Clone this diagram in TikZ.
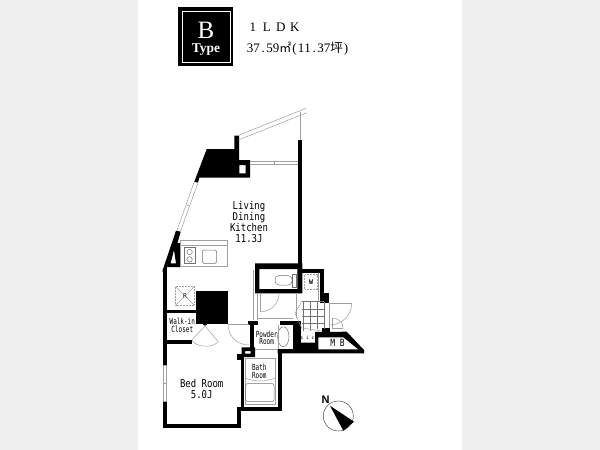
\documentclass[tikz,border=0pt]{standalone}
\usepackage{fontspec}
\setmainfont{Liberation Serif}
\setsansfont{Liberation Sans}
\setmonofont{DejaVu Sans Mono}
\newfontfamily\cjk{Noto Sans CJK JP}
\newcommand{\hw}[1]{\makebox[6.5pt]{#1}}
\newcommand{\fw}[1]{\makebox[14pt]{#1}}
\tikzset{
  wall/.style={fill=black,even odd rule},
  fine/.style={draw=gray!75,line width=0.5pt},
  fitting/.style={draw=gray!90!black,line width=0.5pt},
  roomlabel/.style={font=\ttfamily\fontsize{9}{9.2}\selectfont,align=center,yscale=1.2,inner sep=0pt},
  smalllabel/.style={font=\ttfamily\fontsize{6}{5.4}\selectfont,align=center,yscale=1.4,inner sep=0pt}
}
\begin{document}
\begin{tikzpicture}[x=1pt,y=-1pt]
\useasboundingbox (0,0) rectangle (600,450);
\fill[gray!12] (0,0) rectangle (600,450);
\fill[white] (138,0) rectangle (462,450);

% title block
\fill[black] (178.3,7.3) rectangle (233.3,66);
\draw[white,line width=0.5pt] (182.7,11.7) rectangle (230,62.7);
\node[white,font=\fontsize{25}{25}\selectfont,inner sep=0pt] (typeletter) at (206,30) {B};
\node[white,font=\bfseries\fontsize{13.5}{14}\selectfont,inner sep=0pt] (typeword) at (206,49.5) {Type};
\node[anchor=west,font=\fontsize{13}{14}\selectfont,inner sep=0pt] (layout) at (245.7,27.5) {\fw{1}\fw{L}\fw{D}\fw{K}};
\node[anchor=west,font=\fontsize{13}{14}\selectfont,inner sep=0pt] (area) at (246.7,48.5) {\hw{3}\hw{7}\hw{.}\hw{5}\hw{9}{\cjk\fontsize{12}{12}\selectfont ㎡}\hw{(}\hw{1}\hw{1}\hw{.}\hw{3}\hw{7}{\cjk\fontsize{12.5}{12.5}\selectfont 坪}\hw{)}};

% upper walls
\fill[wall] (206.7,149)--(234.3,149)--(234.3,135.7)--(239,135.7)--(239,160)--(250,160)--(250,177.7)--(199.3,177.7)--(198,182.7)--(194.3,181.7)--cycle
  (239.3,165) rectangle (245.7,173.3);
\fill[wall] (297.7,140) rectangle (302.3,293.3);
\fill[wall] (176,230.7)--(180.7,231.7)--(177.5,243)--(180.7,243)--(180.7,267)--(167,267)--(166.7,272)--(162.7,272)--(162.7,270)--cycle
  (174,250)--(176,263.3)--(170.6,263.3)--cycle;

% left and bottom walls
\fill[wall] (162.7,270) rectangle (166.7,365);
\fill[wall] (162.7,401.7) rectangle (166.7,428.3);
\fill[wall] (162.7,424) rectangle (241,428.3);
\fill[wall] (236.7,406.7) rectangle (241,428.3);
\fill[wall] (166.7,310) rectangle (196,313);
\fill[wall] (166.7,340) rectangle (191.7,344.3);
\fill[wall] (196,291) rectangle (227.7,324);
\fill[wall] (205,323) circle (2.6);

% toilet and closet
\fill[wall] (255,263.3) rectangle (302.3,293.3) (259.3,269) rectangle (297.3,289);
\fill[wall] (302.3,269) rectangle (324.3,273.3);
\fill[wall] (320,269) rectangle (324.3,293.3);
\fill[wall] (320,293.3) rectangle (329,303.3);

% powder room and bath
\fill[wall] (248.3,320.7) rectangle (258.3,325);
\fill[wall] (250,320.7) rectangle (254,350);
\fill[wall] (280,320.7) rectangle (298.3,325);
\fill[wall] (293.3,320.7) rectangle (301,353.3);
\fill[wall] (241.7,347.3) rectangle (255,357) (245,351) rectangle (250.5,353.5);
\fill[wall] (236.7,353.5) rectangle (255,357);
\fill[wall] (241,353.5) rectangle (243.5,410);
\fill[wall] (236.7,353.5) rectangle (241,360);
\fill[wall] (236.7,406.7) rectangle (281.7,410.7);
\fill[wall] (277.7,349) rectangle (281.7,410.7);

% meter box
\fill[wall] (293.3,342.7)--(315,342.7)--(315,332)--(346.7,331.7)--(364,350)--(364,353.3)--(277.7,353.3)--(277.7,349)--(293.3,349)--cycle
  (318.3,337.3)--(343.3,337.3)--(358.3,349.3)--(318.3,349.3)--cycle;
\fill[wall] (322,328) rectangle (330,332);

% windows
\draw[fine] (236.7,136)--(306,108.3);
\draw[fine] (238.3,140)--(306.7,112.7);
\draw[fine] (300,112)--(300,140);
\draw[fine] (250,161)--(297.7,161);
\draw[fine] (250,164.3)--(297.7,164.3);
\draw[fine] (274,161)--(274,164.3);
\draw[fine] (194.3,181.7)--(176.8,230.7);
\draw[fine] (198,182.7)--(180.3,231.7);
\draw[fine] (186.3,205)--(190,206);
\draw[fine] (163,365) rectangle (166.4,401.7);
\draw[fine] (163,383)--(166.4,383);

% kitchen
\draw[fine] (180.7,240.7) rectangle (227.3,266.7);
\draw[fine] (180.7,245)--(227.3,245);
\draw[fitting] (184.3,247.7) rectangle (195,263.3);
\draw[fitting] (189.6,252) circle (2.7);
\draw[fitting] (189.6,259.4) circle (2.7);
\draw[fitting,rounded corners=1.5pt] (202.3,250) rectangle (216.7,263.3);

% duct
\draw[fine,densely dotted] (175.7,286.7) rectangle (194.3,305);
\draw[fine] (175.7,286.7)--(194.3,305);
\draw[fine] (194.3,286.7)--(175.7,305);
\node[fill=white,font=\ttfamily\fontsize{6.5}{6.5}\selectfont,inner sep=0.5pt] (ductmark) at (185,296) {R};

% closet door
\draw[fine] (205,326)--(191.7,340);
\draw[fine] (205,326)--(218.3,341.7);
\draw[fine] (191.7,340) .. controls (196,347) and (211,349) .. (218.3,341.7);

% bedroom door
\draw[fine] (228,324)--(249,324);
\draw[fine] (228,324) .. controls (228,336) and (237,345) .. (249,345);

% corridor and toilet door
\draw[fine] (253.3,270)--(253.3,320);
\draw[fine] (257,293.3)--(257,320);
\draw[fine] (258,318)--(293,318);
\draw[fine] (260.7,293.3)--(279,293.3);
\draw[fine] (260.7,293.3)--(260.7,311.7);
\draw[fine] (260.7,311.7) .. controls (271,311.7) and (279,303.5) .. (279,293.3);
\draw[fine] (296.5,293.3)--(296.5,318);

% toilet fittings
\draw[fitting,rounded corners=4pt] (275,275.5) rectangle (292,285);
\draw[fitting] (292,274)--(296,274)--(296,287)--(292,287)--cycle;
\draw[fine,densely dotted] (304.5,274.5) rectangle (317.7,289);
\node[font=\ttfamily\bfseries\fontsize{6.5}{6.5}\selectfont,inner sep=0pt] (washer) at (311,282) {W};
\draw[fine] (318.5,273.3)--(318.5,301);

% entrance tiles
\draw[fitting] (301.7,301.7)--(324.3,301.7);
\draw[fitting] (301.7,309.3)--(324.3,309.3);
\draw[fitting] (301.7,316.7)--(324.3,316.7);
\draw[fitting] (301.7,323.3)--(324.3,323.3);
\draw[fitting] (303.3,301.7)--(303.3,331);
\draw[fitting] (310,301.7)--(310,331);
\draw[fitting] (317.3,301.7)--(317.3,329);
\draw[fitting] (324.3,301.7)--(324.3,329);
\draw[fine] (301.7,301.7)--(295,313.3)--(301.7,328);
\draw[fine] (301.7,328)--(322,331);

% entrance doors
\draw[fine] (329,303.3)--(351.7,303.3);
\draw[fine] (329,303.3)--(329,328);
\draw[fine] (351.7,303.3) .. controls (351.7,315) and (342,325) .. (329,325);
\draw[fine] (332,318)--(332,328);
\draw[fine] (332,318) .. controls (338,318) and (343,322) .. (343,328);
\draw[fine] (332,328)--(343,328);

% powder room fittings
\draw[fitting] (283.3,336.7) ellipse (5.7 and 10);
\draw[fine] (278,325)--(278,349);
\draw[fine] (255,349)--(278,349);

% bath fittings
\draw[fine] (245,358) rectangle (275.3,404.5);
\draw[fine] (245,378)..controls (255,382) and (265,382)..(275.3,378);
\draw[fitting,rounded corners=2pt] (245.7,383.5) rectangle (274,401.5);

% room names
\node[roomlabel] (ldk) at (249,221.7) {Living\\Dining\\Kitchen\\11.3J};
\node[roomlabel] (bedroom) at (201.7,388.7) {Bed Room\\5.0J};
\node[smalllabel] (closet) at (182.3,325.3) {Walk-in\\Closet};
\node[smalllabel] (powder) at (266.7,337.7) {Powder\\Room};
\node[smalllabel] (bath) at (259.3,371.3) {Bath\\Room};
\node[font=\ttfamily\fontsize{4.5}{5}\selectfont,inner sep=0pt] (sic) at (307.5,337.5) {s i c};
\node[font=\ttfamily\fontsize{8}{8}\selectfont,yscale=1.25,inner sep=0pt] (mb) at (337.5,343.3) {M B};

% north mark
\draw[line width=0.5pt,gray!60!black] (338.3,416) circle (15);
\fill[black] (330,405.7)--(354,421.7)--(343.3,430.7)--cycle;
\node[font=\sffamily\bfseries\fontsize{11}{11}\selectfont,inner sep=0pt] (north) at (325.7,399.5) {N};
\end{tikzpicture}
\end{document}
